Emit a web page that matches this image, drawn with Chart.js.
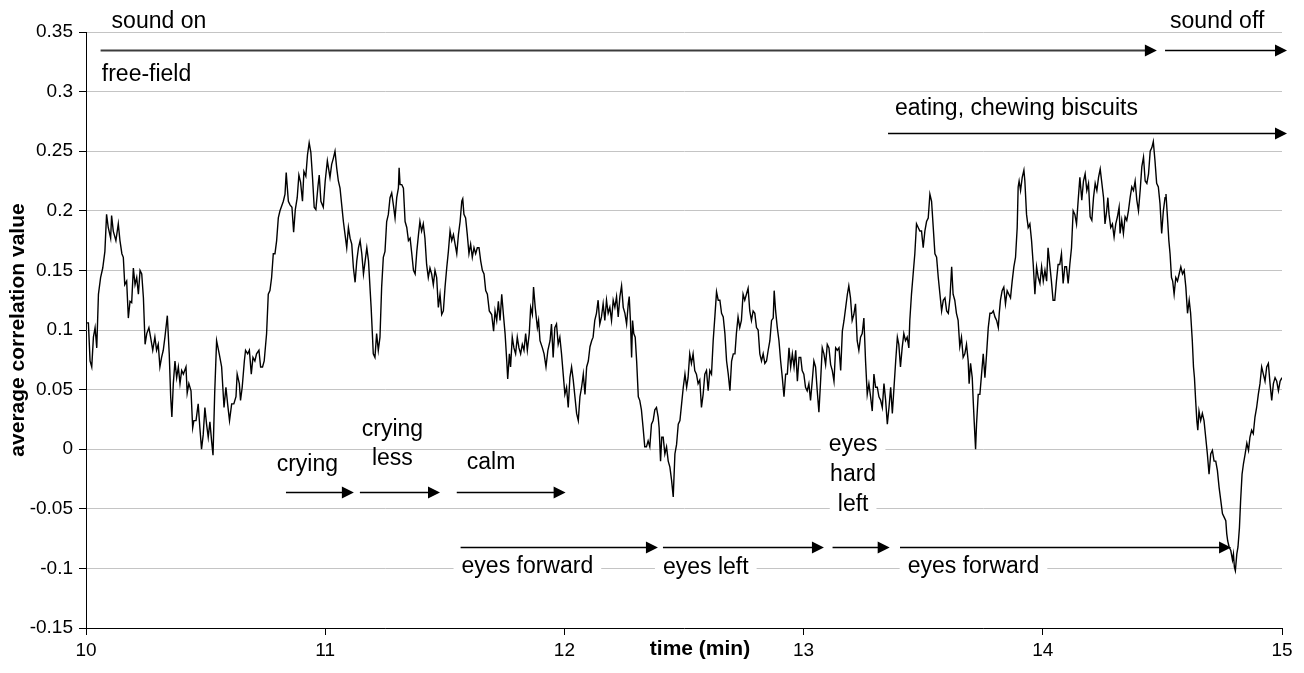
<!DOCTYPE html>
<html>
<head>
<meta charset="utf-8">
<script src="https://cdn.jsdelivr.net/npm/chart.js@4.4.1/dist/chart.umd.min.js"></script>
<style>
  html, body { margin: 0; padding: 0; background: #ffffff; }
  canvas { display: block; }
</style>
</head>
<body>
<canvas id="chart" width="1304" height="673"></canvas>
<script>
// Average correlation value over time, one [minute, value] pair per sample, split by minute.
const m10 = [[10.000,.106],[10.010,.106],[10.017,.074],[10.024,.069],[10.031,.094],[10.038,.102],[10.045,.085],[10.052,.130],[10.061,.144],[10.070,.152],[10.079,.166],[10.086,.197],[10.093,.186],[10.103,.177],[10.107,.196],[10.114,.183],[10.125,.175],[10.135,.189],[10.142,.175],[10.150,.164],[10.156,.161],[10.162,.138],[10.170,.141],[10.177,.110],[10.184,.124],[10.191,.123],[10.198,.152],[10.205,.138],[10.212,.144],[10.219,.130],[10.226,.150],[10.233,.147],[10.240,.127],[10.247,.088],[10.254,.097],[10.263,.102],[10.270,.094],[10.279,.083],[10.288,.094],[10.295,.083],[10.302,.088],[10.309,.069],[10.316,.077],[10.323,.083],[10.330,.094],[10.340,.112],[10.348,.080],[10.354,.044],[10.359,.027],[10.365,.055],[10.372,.074],[10.379,.060],[10.386,.069],[10.393,.055],[10.400,.066],[10.407,.063],[10.418,.069],[10.423,.047],[10.430,.055],[10.439,.049],[10.446,.018],[10.451,.024],[10.460,.024],[10.469,.038],[10.476,.018],[10.483,.000],[10.490,.012],[10.497,.035],[10.504,.021],[10.511,.010],[10.518,.023],[10.525,.007],[10.531,-.005],[10.538,.047],[10.546,.091],[10.557,.080],[10.567,.069],[10.577,.035],[10.585,.052],[10.592,.038],[10.600,.024],[10.609,.038],[10.618,.038],[10.627,.044],[10.632,.063],[10.641,.055],[10.646,.041],[10.653,.052],[10.662,.074],[10.667,.083],[10.676,.080],[10.683,.083],[10.691,.063],[10.698,.077],[10.706,.074],[10.713,.080],[10.723,.083],[10.730,.069],[10.738,.069],[10.745,.074],[10.755,.097],[10.762,.130],[10.769,.133],[10.776,.144],[10.783,.164],[10.790,.164],[10.797,.175],[10.804,.194],[10.811,.200],[10.818,.204],[10.825,.208],[10.832,.214],[10.837,.232],[10.846,.208],[10.853,.205],[10.861,.203],[10.868,.182],[10.875,.201],[10.883,.211],[10.890,.230],[10.897,.224],[10.905,.208],[10.911,.233],[10.919,.229],[10.926,.247],[10.933,.257],[10.940,.249],[10.947,.228],[10.954,.203],[10.961,.201],[10.970,.221],[10.975,.230],[10.982,.208],[10.992,.203]];
const m11 = [[11.000,.225],[11.009,.242],[11.020,.228],[11.027,.239],[11.034,.244],[11.041,.250],[11.048,.236],[11.055,.225],[11.062,.219],[11.069,.205],[11.076,.191],[11.083,.180],[11.090,.169],[11.097,.186],[11.104,.177],[11.111,.172],[11.118,.152],[11.125,.140],[11.132,.158],[11.139,.169],[11.146,.175],[11.153,.164],[11.160,.147],[11.167,.158],[11.174,.169],[11.181,.158],[11.188,.133],[11.192,.119],[11.196,.102],[11.201,.080],[11.208,.077],[11.215,.097],[11.222,.083],[11.229,.094],[11.236,.136],[11.243,.161],[11.250,.166],[11.257,.191],[11.264,.197],[11.271,.211],[11.278,.215],[11.285,.205],[11.292,.194],[11.299,.211],[11.306,.219],[11.309,.236],[11.313,.222],[11.320,.222],[11.327,.219],[11.334,.191],[11.341,.186],[11.348,.175],[11.355,.177],[11.362,.164],[11.369,.150],[11.376,.147],[11.383,.166],[11.390,.180],[11.396,.191],[11.403,.183],[11.410,.189],[11.417,.177],[11.424,.155],[11.431,.144],[11.438,.152],[11.445,.147],[11.452,.138],[11.459,.150],[11.466,.144],[11.473,.119],[11.480,.130],[11.487,.113],[11.494,.116],[11.501,.136],[11.508,.152],[11.515,.166],[11.522,.183],[11.529,.175],[11.536,.180],[11.543,.172],[11.550,.164],[11.557,.180],[11.564,.191],[11.571,.208],[11.575,.210],[11.580,.197],[11.587,.194],[11.594,.180],[11.601,.164],[11.608,.172],[11.615,.161],[11.622,.169],[11.629,.164],[11.636,.169],[11.643,.169],[11.650,.158],[11.657,.150],[11.664,.147],[11.671,.133],[11.678,.130],[11.686,.116],[11.696,.113],[11.704,.099],[11.710,.116],[11.717,.108],[11.724,.124],[11.731,.108],[11.738,.130],[11.745,.113],[11.752,.097],[11.759,.074],[11.763,.059],[11.770,.080],[11.775,.069],[11.782,.094],[11.789,.085],[11.796,.080],[11.803,.094],[11.810,.085],[11.817,.080],[11.824,.088],[11.831,.083],[11.838,.097],[11.845,.083],[11.853,.097],[11.859,.119],[11.866,.113],[11.871,.136],[11.878,.119],[11.887,.102],[11.892,.108],[11.898,.091],[11.908,.085],[11.915,.080],[11.923,.069],[11.931,.083],[11.940,.091],[11.946,.105],[11.953,.077],[11.960,.102],[11.967,.105],[11.974,.088],[11.981,.094],[11.988,.080],[11.995,.063]];
const m12 = [[12.002,.046],[12.009,.052],[12.016,.035],[12.023,.060],[12.030,.069],[12.037,.058],[12.044,.044],[12.051,.030],[12.058,.024],[12.065,.044],[12.072,.052],[12.079,.063],[12.086,.046],[12.093,.069],[12.100,.074],[12.107,.086],[12.114,.091],[12.120,.094],[12.127,.108],[12.134,.114],[12.141,.125],[12.148,.105],[12.155,.111],[12.162,.122],[12.169,.108],[12.176,.125],[12.183,.114],[12.190,.119],[12.197,.108],[12.204,.125],[12.211,.119],[12.218,.128],[12.225,.111],[12.232,.128],[12.239,.137],[12.246,.119],[12.253,.114],[12.260,.105],[12.267,.122],[12.271,.128],[12.276,.108],[12.281,.077],[12.285,.108],[12.290,.097],[12.296,.094],[12.302,.074],[12.309,.044],[12.315,.041],[12.322,.033],[12.329,.018],[12.336,.002],[12.343,.002],[12.350,.007],[12.357,.002],[12.364,.021],[12.371,.024],[12.378,.033],[12.385,.035],[12.392,.027],[12.396,.018],[12.402,-.010],[12.407,.010],[12.413,.010],[12.420,-.004],[12.427,.002],[12.434,-.010],[12.441,-.015],[12.448,-.026],[12.455,-.040],[12.462,-.004],[12.469,.004],[12.476,.021],[12.483,.024],[12.490,.038],[12.497,.052],[12.504,.063],[12.511,.052],[12.517,.060],[12.524,.080],[12.531,.072],[12.538,.080],[12.545,.066],[12.552,.063],[12.559,.055],[12.566,.058],[12.573,.035],[12.580,.046],[12.587,.063],[12.594,.066],[12.601,.049],[12.608,.066],[12.615,.063],[12.622,.091],[12.629,.111],[12.636,.132],[12.643,.125],[12.650,.125],[12.657,.114],[12.664,.111],[12.671,.097],[12.678,.074],[12.685,.063],[12.692,.049],[12.699,.074],[12.706,.080],[12.713,.080],[12.719,.097],[12.726,.111],[12.733,.102],[12.740,.108],[12.747,.130],[12.754,.125],[12.761,.130],[12.768,.135],[12.775,.116],[12.782,.108],[12.789,.116],[12.796,.114],[12.803,.102],[12.810,.100],[12.817,.080],[12.824,.074],[12.831,.080],[12.838,.072],[12.845,.074],[12.852,.083],[12.859,.091],[12.866,.108],[12.873,.110],[12.877,.133],[12.883,.116],[12.890,.102],[12.897,.091],[12.904,.074],[12.911,.060],[12.918,.044],[12.925,.063],[12.932,.063],[12.939,.085],[12.946,.069],[12.953,.080],[12.960,.069],[12.967,.083],[12.974,.057],[12.981,.077],[12.988,.077],[12.994,.066]];
const m13 = [[13.001,.063],[13.008,.052],[13.015,.049],[13.022,.055],[13.029,.041],[13.036,.057],[13.043,.074],[13.050,.069],[13.057,.049],[13.064,.031],[13.071,.057],[13.078,.085],[13.085,.080],[13.092,.071],[13.099,.088],[13.106,.085],[13.113,.071],[13.120,.066],[13.127,.057],[13.134,.085],[13.141,.083],[13.148,.085],[13.155,.066],[13.162,.099],[13.169,.108],[13.176,.119],[13.183,.130],[13.189,.137],[13.196,.127],[13.203,.108],[13.210,.113],[13.217,.122],[13.224,.091],[13.231,.083],[13.238,.094],[13.245,.097],[13.252,.110],[13.259,.074],[13.266,.046],[13.273,.055],[13.280,.044],[13.287,.032],[13.294,.063],[13.301,.052],[13.308,.052],[13.315,.044],[13.322,.041],[13.329,.035],[13.336,.055],[13.343,.041],[13.350,.021],[13.357,.035],[13.364,.052],[13.371,.030],[13.378,.052],[13.385,.074],[13.392,.094],[13.398,.088],[13.405,.069],[13.412,.085],[13.419,.097],[13.426,.091],[13.433,.094],[13.440,.085],[13.444,.108],[13.451,.130],[13.458,.147],[13.465,.164],[13.472,.189],[13.479,.186],[13.486,.183],[13.493,.183],[13.500,.169],[13.507,.183],[13.514,.191],[13.521,.194],[13.528,.214],[13.535,.208],[13.542,.186],[13.549,.164],[13.556,.161],[13.563,.144],[13.570,.130],[13.577,.116],[13.584,.125],[13.591,.127],[13.598,.116],[13.605,.114],[13.612,.127],[13.619,.153],[13.625,.130],[13.632,.125],[13.639,.114],[13.646,.108],[13.653,.086],[13.660,.094],[13.667,.077],[13.674,.080],[13.681,.088],[13.688,.074],[13.692,.055],[13.698,.072],[13.705,.060],[13.709,.041],[13.713,.024],[13.719,.000],[13.723,.021],[13.730,.046],[13.737,.046],[13.744,.063],[13.751,.080],[13.758,.060],[13.765,.080],[13.772,.102],[13.779,.114],[13.786,.114],[13.793,.116],[13.800,.111],[13.807,.108],[13.814,.102],[13.818,.114],[13.823,.125],[13.830,.133],[13.837,.136],[13.844,.122],[13.851,.133],[13.858,.130],[13.865,.127],[13.872,.141],[13.879,.153],[13.886,.161],[13.893,.186],[13.897,.220],[13.901,.225],[13.907,.217],[13.914,.228],[13.921,.234],[13.925,.225],[13.932,.197],[13.939,.186],[13.946,.189],[13.953,.175],[13.960,.155],[13.967,.130],[13.974,.153],[13.981,.144],[13.988,.139],[13.995,.153]];
const m14 = [[14.002,.141],[14.009,.150],[14.016,.141],[14.022,.169],[14.029,.155],[14.036,.141],[14.043,.125],[14.050,.125],[14.057,.141],[14.064,.155],[14.071,.155],[14.078,.164],[14.085,.139],[14.092,.153],[14.099,.153],[14.106,.139],[14.113,.155],[14.120,.169],[14.127,.200],[14.134,.197],[14.141,.189],[14.148,.209],[14.155,.228],[14.163,.209],[14.170,.225],[14.177,.231],[14.184,.217],[14.191,.223],[14.198,.195],[14.205,.192],[14.212,.211],[14.219,.223],[14.226,.217],[14.233,.228],[14.240,.235],[14.247,.223],[14.254,.211],[14.260,.189],[14.267,.200],[14.272,.211],[14.277,.197],[14.284,.186],[14.291,.189],[14.298,.178],[14.305,.189],[14.312,.195],[14.319,.203],[14.323,.181],[14.330,.192],[14.337,.181],[14.344,.195],[14.351,.192],[14.358,.200],[14.365,.211],[14.372,.220],[14.379,.217],[14.386,.225],[14.393,.209],[14.400,.200],[14.407,.217],[14.414,.237],[14.421,.245],[14.428,.225],[14.435,.223],[14.442,.231],[14.449,.250],[14.456,.253],[14.462,.258],[14.469,.242],[14.476,.223],[14.483,.220],[14.490,.206],[14.497,.181],[14.504,.200],[14.511,.211],[14.515,.214],[14.521,.195],[14.527,.175],[14.532,.164],[14.538,.144],[14.543,.141],[14.549,.130],[14.556,.144],[14.563,.141],[14.570,.147],[14.577,.153],[14.584,.147],[14.591,.150],[14.598,.136],[14.605,.114],[14.612,.125],[14.618,.114],[14.625,.091],[14.630,.069],[14.634,.060],[14.639,.041],[14.644,.024],[14.648,.016],[14.653,.032],[14.660,.024],[14.667,.030],[14.674,.024],[14.681,.010],[14.688,-.004],[14.695,-.021],[14.702,-.004],[14.709,-.001],[14.716,-.010],[14.723,-.010],[14.730,-.018],[14.737,-.032],[14.744,-.043],[14.751,-.054],[14.758,-.057],[14.765,-.060],[14.769,-.071],[14.773,-.077],[14.779,-.082],[14.786,-.085],[14.793,-.093],[14.797,-.088],[14.801,-.099],[14.805,-.102],[14.811,-.088],[14.816,-.082],[14.822,-.066],[14.827,-.043],[14.833,-.021],[14.839,-.012],[14.846,-.004],[14.853,.005],[14.860,-.001],[14.866,.010],[14.873,.016],[14.880,.013],[14.887,.027],[14.894,.035],[14.901,.046],[14.908,.055],[14.915,.069],[14.922,.063],[14.929,.057],[14.936,.069],[14.943,.072],[14.950,.055],[14.957,.041],[14.964,.055],[14.971,.060],[14.978,.057],[14.985,.049],[14.992,.057],[15.000,.060]];

const xTickValues = [10, 11, 12, 13, 14, 15];
const yTickValues = [-0.15, -0.1, -0.05, 0, 0.05, 0.1, 0.15, 0.2, 0.25, 0.3, 0.35];

// Episode arrows: [start minute, end minute, level]
const episodeArrows = [
  [10.061, 14.477, 0.335],
  [14.511, 15.021, 0.335],
  [13.353, 15.021, 0.265],
  [10.836, 11.120, -0.036],
  [11.145, 11.480, -0.036],
  [11.550, 12.005, -0.036],
  [11.566, 12.391, -0.082],
  [12.412, 13.085, -0.082],
  [13.121, 13.360, -0.082],
  [13.403, 14.787, -0.082]
];
// Episode labels: [text, minute, level, align, on a white box]
const episodeLabels = [
  ['sound on', 10.107, 0.3586, 'left', false],
  ['sound off', 14.532, 0.3586, 'left', false],
  ['free-field', 10.066, 0.3139, 'left', false],
  ['eating, chewing biscuits', 13.382, 0.286, 'left', false],
  ['crying', 10.797, -0.0133, 'left', false],
  ['crying', 11.281, 0.0161, 'center', false],
  ['less', 11.281, -0.0082, 'center', false],
  ['calm', 11.592, -0.0116, 'left', false],
  ['eyes', 13.207, 0.0035, 'center', true],
  ['hard', 13.207, -0.0216, 'center', true],
  ['left', 13.207, -0.0468, 'center', true],
  ['eyes forward', 11.570, -0.0986, 'left', true],
  ['eyes left', 12.412, -0.0997, 'left', true],
  ['eyes forward', 13.435, -0.0988, 'left', true]
];

const FAMILY = '"Liberation Sans", Arial, Helvetica, sans-serif';
const NOTE_FONT = '23px ' + FAMILY;
const TITLE_FONT = 'bold 21px ' + FAMILY;

const series = [...m10, ...m11, ...m12, ...m13, ...m14].map(p => ({ x: p[0], y: p[1] }));

function labelBox(ctx, x, y, text, align) {
  const w = ctx.measureText(text).width;
  const left = align === 'center' ? x - w / 2 : x;
  return { left, width: w };
}

const episodePlugin = {
  id: 'episodes',
  beforeDatasetsDraw(chart) {
    const { ctx, scales: { x, y } } = chart;
    ctx.save();
    ctx.font = NOTE_FONT;
    ctx.fillStyle = '#ffffff';
    episodeLabels.forEach(([text, t, v, align, boxed]) => {
      if (!boxed) return;
      const px = x.getPixelForValue(t), py = y.getPixelForValue(v);
      const b = labelBox(ctx, px, py, text, align);
      ctx.fillRect(b.left - 8, py - 14, b.width + 16, 28);
    });
    ctx.restore();
  },
  afterDatasetsDraw(chart) {
    const { ctx, scales: { x, y } } = chart;
    ctx.save();
    episodeArrows.forEach(([t0, t1, v], i) => {
      const x0 = x.getPixelForValue(t0), x1 = x.getPixelForValue(t1);
      const py = Math.round(y.getPixelForValue(v)) + 0.5;
      const head = 12, half = 6;
      ctx.strokeStyle = i === 0 ? '#3c3c3c' : '#000000';
      ctx.lineWidth = i === 0 ? 2 : 1.5;
      ctx.beginPath();
      ctx.moveTo(x0, py);
      ctx.lineTo(x1 - head + 1, py);
      ctx.stroke();
      ctx.fillStyle = '#000000';
      ctx.beginPath();
      ctx.moveTo(x1, py);
      ctx.lineTo(x1 - head, py - half);
      ctx.lineTo(x1 - head, py + half);
      ctx.closePath();
      ctx.fill();
    });
    ctx.font = NOTE_FONT;
    ctx.fillStyle = '#000000';
    ctx.textBaseline = 'middle';
    episodeLabels.forEach(([text, t, v, align]) => {
      ctx.textAlign = align;
      ctx.fillText(text, x.getPixelForValue(t), y.getPixelForValue(v));
    });
    ctx.restore();
  },
  afterDraw(chart) {
    const { ctx, chartArea, scales: { x } } = chart;
    ctx.save();
    ctx.font = TITLE_FONT;
    ctx.fillStyle = '#000000';
    ctx.textAlign = 'center';
    ctx.textBaseline = 'middle';
    ctx.fillText('time (min)', x.getPixelForValue(12.567), chartArea.bottom + 21);
    ctx.translate(18, (chartArea.top + chartArea.bottom) / 2);
    ctx.rotate(-Math.PI / 2);
    ctx.fillText('average correlation value', 0, 0);
    ctx.restore();
  }
};

new Chart(document.getElementById('chart'), {
  type: 'line',
  data: {
    datasets: [{
      data: series,
      borderColor: '#000000',
      borderWidth: 1.4,
      pointRadius: 0,
      tension: 0,
      fill: false
    }]
  },
  options: {
    responsive: false,
    animation: false,
    devicePixelRatio: 1,
    layout: { padding: { left: 0, right: 22, top: 32, bottom: 0 } },
    plugins: { legend: { display: false }, tooltip: { enabled: false } },
    scales: {
      x: {
        type: 'linear',
        min: xTickValues[0],
        max: xTickValues[xTickValues.length - 1],
        afterBuildTicks(scale) { scale.ticks = xTickValues.map(value => ({ value })); },
        afterFit(scale) { scale.height = 45; },
        grid: { drawOnChartArea: false, tickColor: '#000000', tickLength: 7 },
        border: { color: '#000000', width: 1 },
        ticks: { color: '#000000', padding: 4, font: { family: FAMILY, size: 19 }, maxRotation: 0 }
      },
      y: {
        min: yTickValues[0],
        max: yTickValues[yTickValues.length - 1],
        afterBuildTicks(scale) { scale.ticks = yTickValues.map(value => ({ value })); },
        afterFit(scale) { scale.width = 86; },
        grid: { color: '#c4c4c4', lineWidth: 1, tickColor: '#000000', tickLength: 7 },
        border: { color: '#000000', width: 1 },
        ticks: {
          color: '#000000',
          padding: 6,
          font: { family: FAMILY, size: 19 },
          callback: v => String(Math.round(v * 100) / 100)
        }
      }
    }
  },
  plugins: [episodePlugin]
});
</script>
</body>
</html>
